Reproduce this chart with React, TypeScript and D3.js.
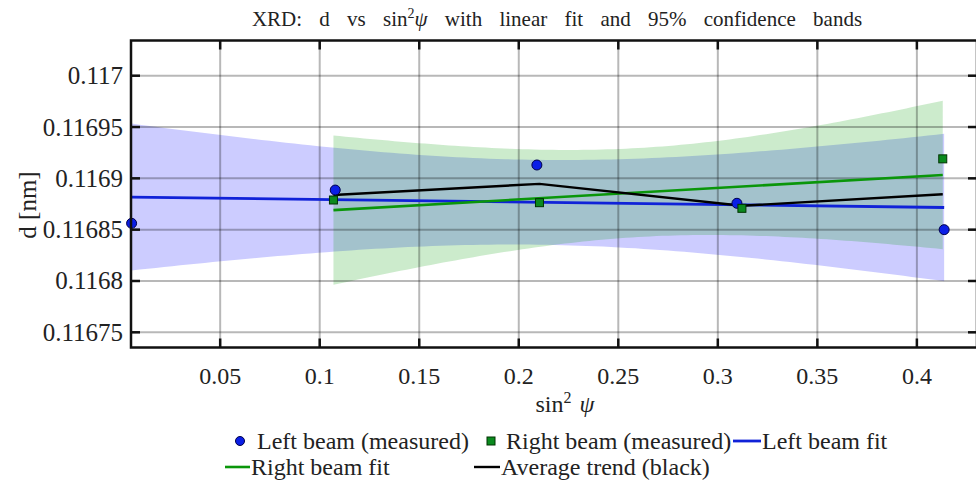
import React from "react";
import * as d3 from "d3";

// ---- Data ----
const leftX = [0.0055, 0.1078, 0.2091, 0.3096, 0.4137];
const leftD = [0.1168562, 0.1168886, 0.116913, 0.1168757, 0.11685];
const rightX = [0.1069, 0.2104, 0.3121, 0.413];
const rightD = [0.1168789, 0.1168763, 0.1168708, 0.116919];
const xTicks = [0.05, 0.1, 0.15, 0.2, 0.25, 0.3, 0.35, 0.4];
const xTickLabels = ["0.05", "0.1", "0.15", "0.2", "0.25", "0.3", "0.35", "0.4"];
const yTicks = [0.11675, 0.1168, 0.11685, 0.1169, 0.11695, 0.117];
const yTickLabels = ["0.11675", "0.1168", "0.11685", "0.1169", "0.11695", "0.117"];
const xDomain = [0.0052, 0.4302];
const yDomain = [0.1167352, 0.1170343];
const tLeft = 3.182; // t(0.975, n-2=3)
const tRight = 4.303; // t(0.975, n-2=2)

const W = 976;
const H = 483;
const M = { left: 131, right: 977, top: 40.5, bottom: 347.5 };
const FONT = "Liberation Serif";

function fit(xs: number[], ys: number[], t: number) {
  const n = xs.length;
  const mx = d3.mean(xs) as number;
  const my = d3.mean(ys) as number;
  let sxx = 0, sxy = 0;
  xs.forEach((x, i) => {
    sxx += (x - mx) ** 2;
    sxy += (x - mx) * (ys[i] - my);
  });
  const b = sxy / sxx;
  const a = my - b * mx;
  let sse = 0;
  xs.forEach((x, i) => (sse += (ys[i] - (a + b * x)) ** 2));
  const s = Math.sqrt(sse / (n - 2));
  const x0 = d3.min(xs) as number;
  const x1 = d3.max(xs) as number;
  const grid = d3.range(0, 101).map((k) => x0 + ((x1 - x0) * k) / 100);
  const band = grid.map((x) => {
    const yh = a + b * x;
    const hw = t * s * Math.sqrt(1 / n + (x - mx) ** 2 / sxx);
    return { x, lo: yh - hw, hi: yh + hw };
  });
  return { line: [{ x: x0, y: a + b * x0 }, { x: x1, y: a + b * x1 }], band };
}

export default function App() {
  const x = d3.scaleLinear().domain(xDomain).range([M.left, M.right]);
  const y = d3.scaleLinear().domain(yDomain).range([M.bottom, M.top]);

  const lf = fit(leftX, leftD, tLeft);
  const rf = fit(rightX, rightD, tRight);
  const avg = rightX.map((rx, i) => ({ x: rx, y: (leftD[i + 1] + rightD[i]) / 2 }));

  const area = d3
    .area<{ x: number; lo: number; hi: number }>()
    .x((d) => x(d.x))
    .y0((d) => y(d.lo))
    .y1((d) => y(d.hi));
  const line = d3
    .line<{ x: number; y: number }>()
    .x((d) => x(d.x))
    .y((d) => y(d.y));

  const blue = "#1022d8";
  const green = "#0a960a";
  const tickLen = 9;
  const ts = { fontFamily: FONT };

  return (
    <svg
      width={W}
      height={H}
      style={{ position: "absolute", left: 0, top: 0, background: "#fff", fontFamily: FONT }}
    >
      <rect x={0} y={0} width={W} height={H} fill="#fff" />
      {/* Title */}
      <text x={557} y={26} textAnchor="middle" fontSize={21} wordSpacing={12} fill="#222" style={ts}>
        XRD: d vs sin
        <tspan fontSize={14} dy={-8}>2</tspan>
        <tspan fontStyle="italic" dy={8}>ψ</tspan> with linear fit and 95% confidence bands
      </text>

      {/* Confidence bands */}
      <path d={area(lf.band) as string} fill="#0000ff" fillOpacity={0.2} />
      <path d={area(rf.band) as string} fill="#009900" fillOpacity={0.2} />

      {/* Grid */}
      {xTicks.map((t) => (
        <line key={"gx" + t} x1={x(t)} x2={x(t)} y1={M.top} y2={M.bottom} stroke="#000" strokeOpacity={0.28} strokeWidth={2} />
      ))}
      {yTicks.map((t) => (
        <line key={"gy" + t} x1={M.left} x2={M.right} y1={y(t)} y2={y(t)} stroke="#000" strokeOpacity={0.28} strokeWidth={2} />
      ))}

      {/* Fit lines */}
      <path d={line(lf.line) as string} fill="none" stroke={blue} strokeWidth={2.8} />
      <path d={line(rf.line) as string} fill="none" stroke={green} strokeWidth={2.6} />
      <path d={line(avg) as string} fill="none" stroke="#000" strokeWidth={2.4} />

      {/* Markers */}
      {leftX.map((lx, i) => (
        <circle key={"l" + i} cx={x(lx)} cy={y(leftD[i])} r={5} fill="#0a1ee6" stroke="#00004a" strokeWidth={1} />
      ))}
      {rightX.map((rx, i) => (
        <rect key={"r" + i} x={x(rx) - 4} y={y(rightD[i]) - 4} width={8} height={8} fill="#0a8a1e" stroke="#003300" strokeWidth={1} />
      ))}

      {/* Axes box and ticks */}
      <g stroke="#111" strokeWidth={2.5} fill="none">
        <rect x={M.left} y={M.top} width={M.right - M.left} height={M.bottom - M.top} />
        {xTicks.map((t) => (
          <g key={"tx" + t}>
            <line x1={x(t)} x2={x(t)} y1={M.bottom} y2={M.bottom - tickLen} />
            <line x1={x(t)} x2={x(t)} y1={M.top} y2={M.top + tickLen} />
          </g>
        ))}
        {yTicks.map((t) => (
          <g key={"ty" + t}>
            <line x1={M.left} x2={M.left + tickLen} y1={y(t)} y2={y(t)} />
            <line x1={M.right} x2={M.right - tickLen} y1={y(t)} y2={y(t)} />
          </g>
        ))}
      </g>

      {/* Tick labels */}
      {xTicks.map((t, i) => (
        <text key={"xl" + t} x={x(t)} y={384} textAnchor="middle" fontSize={24} fill="#222" style={ts}>
          {xTickLabels[i]}
        </text>
      ))}
      {yTicks.map((t, i) => (
        <text key={"yl" + t} x={123} y={y(t) + 8.5} textAnchor="end" fontSize={25} fill="#222" style={ts}>
          {yTickLabels[i]}
        </text>
      ))}

      {/* Axis labels */}
      <text x={565} y={412} textAnchor="middle" fontSize={24} fill="#222" style={ts}>
        sin<tspan fontSize={16} dy={-9}>2</tspan>
        <tspan dy={9} dx={8} fontStyle="italic">ψ</tspan>
      </text>
      <text transform={`translate(36,205) rotate(-90)`} textAnchor="middle" fontSize={25} fill="#222" style={ts}>
        d [nm]
      </text>

      {/* Legend */}
      <g fontSize={24} fill="#222" style={ts}>
        <circle cx={240} cy={441} r={4.5} fill="#0a1ee6" stroke="#00004a" strokeWidth={1} />
        <text x={257} y={449}>Left beam (measured)</text>
        <rect x={487} y={437} width={8} height={8} fill="#0a8a1e" stroke="#003300" strokeWidth={1} />
        <text x={506} y={449}>Right beam (measured)</text>
        <line x1={733} x2={761} y1={441} y2={441} stroke={blue} strokeWidth={2.8} />
        <text x={762} y={449}>Left beam fit</text>
        <line x1={225} x2={250} y1={467} y2={467} stroke={green} strokeWidth={2.6} />
        <text x={251} y={475}>Right beam fit</text>
        <line x1={474} x2={500} y1={467} y2={467} stroke="#000" strokeWidth={2.4} />
        <text x={501} y={475}>Average trend (black)</text>
      </g>
    </svg>
  );
}
